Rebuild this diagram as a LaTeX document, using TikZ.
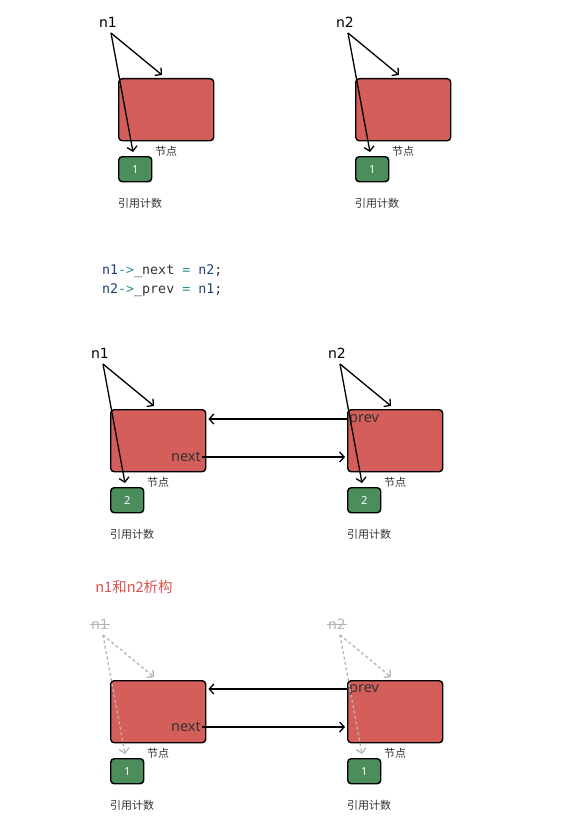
\documentclass[tikz,border=0pt]{standalone}
\usepackage{fontspec}
\setmainfont{Noto Sans CJK SC}
\newfontfamily\lblfont{DejaVu Sans}
\newfontfamily\codefont{DejaVu Sans Mono}
\newfontfamily\latfont{Noto Sans}
\usetikzlibrary{arrows.meta}
\definecolor{redbox}{HTML}{D45E5A}
\definecolor{greenbox}{HTML}{4B8E5C}
\definecolor{codenavy}{HTML}{1F3F73}
\definecolor{codeteal}{HTML}{2B8C8C}
\definecolor{codedark}{HTML}{333333}
\definecolor{titlered}{HTML}{D9534F}
\definecolor{ghostgray}{HTML}{B4B4B4}
\tikzset{
  nodebox/.style={draw=black, line width=1.4pt, fill=redbox, rounded corners=3.5pt,
    minimum width=95pt, minimum height=62pt, inner sep=0pt, anchor=north west},
  cntbox/.style={draw=black, line width=1.4pt, fill=greenbox, rounded corners=3.5pt,
    minimum width=33pt, minimum height=25pt, inner sep=0pt, anchor=north west,
    text=white, font=\latfont\fontsize{11}{13}\selectfont},
  ptr/.style={-{Straight Barb[length=4.5pt,width=10pt]}, line width=1.3pt, draw=black},
  ghostptr/.style={ptr, draw=ghostgray, dash pattern=on 3pt off 2.5pt},
  varlbl/.style={font=\lblfont\fontsize{14}{16}\selectfont, inner sep=1pt, text=black},
  ghostlbl/.style={varlbl, text=ghostgray},
  small/.style={font=\fontsize{11}{13}\selectfont, text=codedark, inner sep=1pt},
  fieldlbl/.style={font=\latfont\fontsize{14.5}{17}\selectfont, text=codedark, inner sep=1pt},
  codeline/.style={font=\codefont\fontsize{13.3}{15}\selectfont, anchor=west, inner sep=0pt},
}
% #1 prefix, #2 left x, #3 top y, #4 label, #5 count, #6 pointer style, #7 label style
\newcommand\refunit[7]{%
  \node[nodebox] (#1box) at (#2,#3) {};
  \node[cntbox] (#1cnt) at (#2,{#3+78}) {#5};
  \node[#7] (#1lbl) at ({#2-10},{#3-56}) {#4};
  \coordinate (#1tip) at ({#2-7},{#3-45});
  \coordinate (#1endA) at ({#2+44},{#3-3});
  \coordinate (#1endB) at ({#2+15},{#3+74});
  \node[small] (#1cap) at ({#2+48},{#3+73}) {节点};
  \node[small] (#1rc) at ({#2+22},{#3+125}) {引用计数};
}
\begin{document}
\begin{tikzpicture}[x=1pt,y=-1pt]
\useasboundingbox (0,0) rectangle (561,824);

% ---------- section 1 ----------
\refunit{a}{118}{78}{n1}{1}{ptr}{varlbl}
\refunit{b}{355}{78}{n2}{1}{ptr}{varlbl}
\draw[ptr] (atip) -- (aendA);
\draw[ptr] (atip) -- (aendB);
\draw[ptr] (btip) -- (bendA);
\draw[ptr] (btip) -- (bendB);

% ---------- code ----------
\node[codeline] (code1) at (102,271) {\textcolor{codenavy}{n1}\textcolor{codeteal}{->}\textcolor{codedark}{\_next}\ \textcolor{codeteal}{=}\ \textcolor{codenavy}{n2}\textcolor{codedark}{;}};
\node[codeline] (code2) at (102,290) {\textcolor{codenavy}{n2}\textcolor{codeteal}{->}\textcolor{codedark}{\_prev}\ \textcolor{codeteal}{=}\ \textcolor{codenavy}{n1}\textcolor{codedark}{;}};

% ---------- section 2 ----------
\refunit{c}{110}{409}{n1}{2}{ptr}{varlbl}
\refunit{d}{347}{409}{n2}{2}{ptr}{varlbl}
\node[fieldlbl, anchor=east] (cnext) at (202,457) {next};
\node[fieldlbl, anchor=west] (dprev) at (348,420) {prev};
\draw[ptr] (cnext.east) -- ([xshift=-2pt]dbox.west |- cnext.east);
\draw[ptr] (dbox.west |- 0,419) -- ([xshift=2pt]cbox.east |- 0,419);
\draw[ptr] (ctip) -- (cendA);
\draw[ptr] (ctip) -- (cendB);
\draw[ptr] (dtip) -- (dendA);
\draw[ptr] (dtip) -- (dendB);

% ---------- section 3 ----------
\node[font=\fontsize{14.5}{17}\selectfont, text=titlered, inner sep=1pt] (title) at (134,587) {n1和n2析构};
\refunit{e}{110}{680}{n1}{1}{ghostptr}{ghostlbl}
\refunit{f}{347}{680}{n2}{1}{ghostptr}{ghostlbl}
\draw[ghostgray, line width=0.8pt] (elbl.west) -- (elbl.east);
\draw[ghostgray, line width=0.8pt] (flbl.west) -- (flbl.east);
\node[fieldlbl, anchor=east] (enext) at (202,727) {next};
\node[fieldlbl, anchor=west] (fprev) at (348,690) {prev};
\draw[ptr] (enext.east) -- ([xshift=-2pt]fbox.west |- enext.east);
\draw[ptr] (fbox.west |- 0,689) -- ([xshift=2pt]ebox.east |- 0,689);
\draw[ghostptr] (etip) -- (eendA);
\draw[ghostptr] (etip) -- (eendB);
\draw[ghostptr] (ftip) -- (fendA);
\draw[ghostptr] (ftip) -- (fendB);
\end{tikzpicture}
\end{document}
